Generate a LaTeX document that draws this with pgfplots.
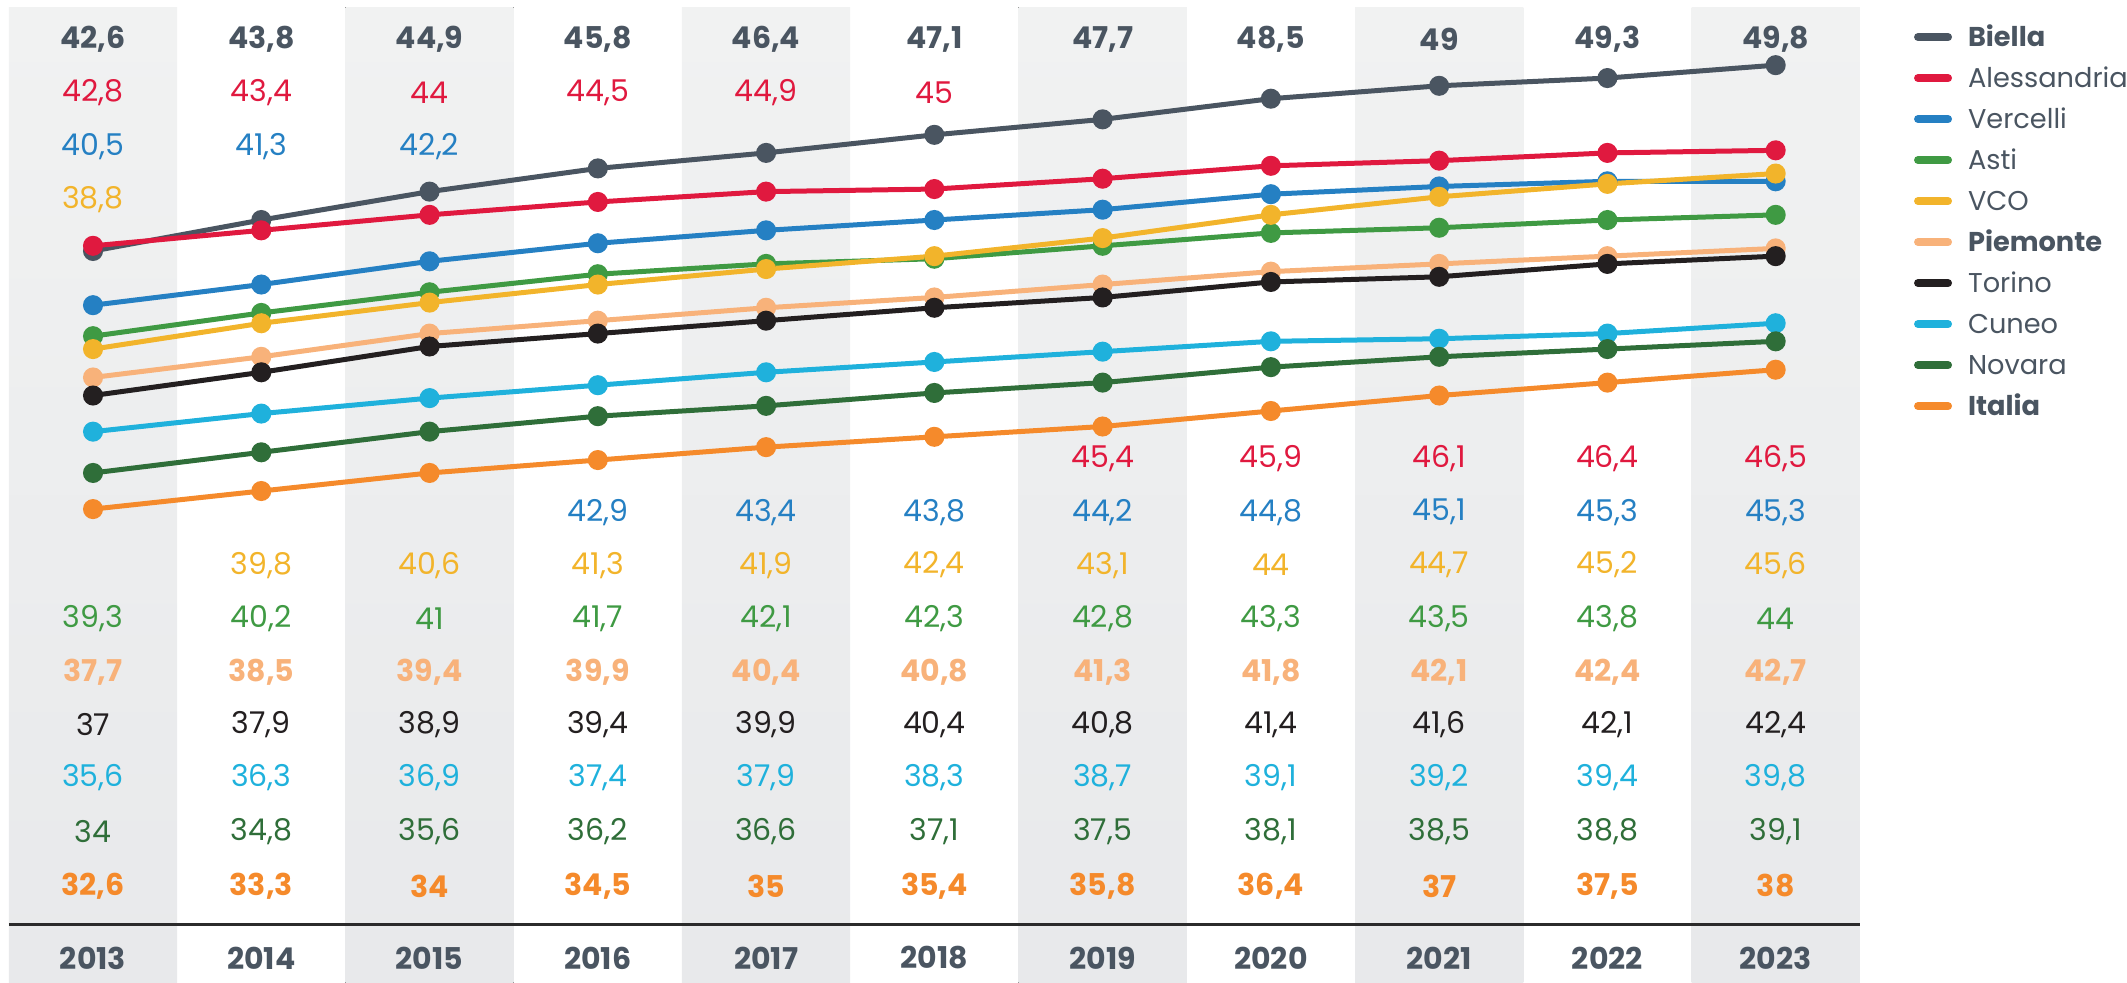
\documentclass[border=0pt]{standalone}
\usepackage{fontspec}
\setmainfont{Poppins}
\usepackage{pgfplots}
\pgfplotsset{compat=1.18}
\usepackage{pgfplotstable}

\definecolor{cBiella}{HTML}{4A5561}
\definecolor{cAless}{HTML}{E0193F}
\definecolor{cVerc}{HTML}{2580C3}
\definecolor{cAsti}{HTML}{3F9A43}
\definecolor{cVCO}{HTML}{F2B42B}
\definecolor{cPiem}{HTML}{F8B27A}
\definecolor{cTorino}{HTML}{231F20}
\definecolor{cCuneo}{HTML}{1FB1DC}
\definecolor{cNovara}{HTML}{2F6E39}
\definecolor{cItalia}{HTML}{F58A2B}
\definecolor{cSlate}{HTML}{4A5561}
\definecolor{shTop}{HTML}{F1F2F2}
\definecolor{shMid}{HTML}{FAFAFA}
\definecolor{shBot}{HTML}{E8E9EB}
\definecolor{axBlack}{HTML}{2B2B2B}

\newcommand{\lf}{\fontsize{15pt}{15pt}\selectfont}

\pgfplotstableread{
year Biella Alessandria Vercelli Asti VCO Piemonte Torino Cuneo Novara Italia
2013 42.6 42.8 40.5 39.3 38.8 37.7 37.0 35.6 34.0 32.6
2014 43.8 43.4 41.3 40.2 39.8 38.5 37.9 36.3 34.8 33.3
2015 44.9 44.0 42.2 41.0 40.6 39.4 38.9 36.9 35.6 34.0
2016 45.8 44.5 42.9 41.7 41.3 39.9 39.4 37.4 36.2 34.5
2017 46.4 44.9 43.4 42.1 41.9 40.4 39.9 37.9 36.6 35.0
2018 47.1 45.0 43.8 42.3 42.4 40.8 40.4 38.3 37.1 35.4
2019 47.7 45.4 44.2 42.8 43.1 41.3 40.8 38.7 37.5 35.8
2020 48.5 45.9 44.8 43.3 44.0 41.8 41.4 39.1 38.1 36.4
2021 49.0 46.1 45.1 43.5 44.7 42.1 41.6 39.2 38.5 37.0
2022 49.3 46.4 45.3 43.8 45.2 42.4 42.1 39.4 38.8 37.5
2023 49.8 46.5 45.3 44.0 45.6 42.7 42.4 39.8 39.1 38.0
}\data

\pgfplotsset{
  vlab/.style 2 args={draw=none, mark=none, forget plot, point meta=explicit,
    nodes near coords={\pgfmathprintnumber[fixed, precision=1, use comma, assume math mode=true]{\pgfplotspointmeta}},
    nodes near coords align={center},
    every node near coord/.append style={text=#1, font=\lf#2, inner sep=0pt, anchor=center}},
  ser/.style={#1, line width=2.5pt, mark=*, mark size=3.75pt, mark options={solid, fill=#1, draw=#1}},
}

\begin{document}
\begin{tikzpicture}
\useasboundingbox (0,0) rectangle (1063.5pt,491.5pt);
\begin{axis}[
  at={(4.45pt,0pt)}, anchor=south west,
  scale only axis, width=925.45pt, height=491.5pt,
  xmin=2012.5, xmax=2023.5, ymin=14.239, ymax=52.325,
  hide axis, clip=false,
  legend style={at={(1.0293,0.9736)}, anchor=north west, draw=none, fill=none,
    inner sep=0pt, outer sep=0pt, row sep=7.3pt, column sep=8pt,
    font=\fontsize{13.6pt}{13.6pt}\selectfont, text=cSlate,
    nodes={inner sep=0pt, text height=10.2pt, text depth=3pt}},
  legend cell align=left,
  legend image code/.code={\draw[#1, line width=4pt, line cap=round] (2pt,1pt) -- (17pt,1pt);},
]
\fill[top color=shTop, middle color=shMid, bottom color=shBot] (axis cs:2012.5,14.239) rectangle (axis cs:2013.5,52.05);
\fill[top color=shTop, middle color=shMid, bottom color=shBot] (axis cs:2014.5,14.239) rectangle (axis cs:2015.5,52.05);
\fill[top color=shTop, middle color=shMid, bottom color=shBot] (axis cs:2016.5,14.239) rectangle (axis cs:2017.5,52.05);
\fill[top color=shTop, middle color=shMid, bottom color=shBot] (axis cs:2018.5,14.239) rectangle (axis cs:2019.5,52.05);
\fill[top color=shTop, middle color=shMid, bottom color=shBot] (axis cs:2020.5,14.239) rectangle (axis cs:2021.5,52.05);
\fill[top color=shTop, middle color=shMid, bottom color=shBot] (axis cs:2022.5,14.239) rectangle (axis cs:2023.5,52.05);

\draw[line width=1.5pt, axBlack] (axis cs:2012.5,16.49) -- (axis cs:2023.5,16.49);

\addplot[ser=cBiella] table[x=year,y=Biella]{\data}; \addlegendentry{\textbf{Biella}}
\addplot[ser=cAless] table[x=year,y=Alessandria]{\data}; \addlegendentry{Alessandria}
\addplot[ser=cVerc] table[x=year,y=Vercelli]{\data}; \addlegendentry{Vercelli}
\addplot[ser=cAsti] table[x=year,y=Asti]{\data}; \addlegendentry{Asti}
\addplot[ser=cVCO] table[x=year,y=VCO]{\data}; \addlegendentry{VCO}
\addplot[ser=cPiem] table[x=year,y=Piemonte]{\data}; \addlegendentry{\textbf{Piemonte}}
\addplot[ser=cTorino] table[x=year,y=Torino]{\data}; \addlegendentry{Torino}
\addplot[ser=cCuneo] table[x=year,y=Cuneo]{\data}; \addlegendentry{Cuneo}
\addplot[ser=cNovara] table[x=year,y=Novara]{\data}; \addlegendentry{Novara}
\addplot[ser=cItalia] table[x=year,y=Italia]{\data}; \addlegendentry{\textbf{Italia}}

% value labels
\addplot[vlab={cBiella}{\bfseries}] table[x=year, y expr=50.81, meta=Biella]{\data};
\addplot[vlab={cAless}{}] table[x=year, y expr={ifthenelse(\thisrow{year}<2018.5,48.72,34.54)}, meta=Alessandria]{\data};
\addplot[vlab={cVerc}{}] table[x=year, y expr={ifthenelse(\thisrow{year}<2015.5,46.66,32.48)}, meta=Vercelli]{\data};
\addplot[vlab={cVCO}{}] table[x=year, y expr={ifthenelse(\thisrow{year}<2013.5,44.61,30.43)}, meta=VCO]{\data};
\addplot[vlab={cAsti}{}] table[x=year, y expr=28.34, meta=Asti]{\data};
\addplot[vlab={cPiem}{\bfseries}] table[x=year, y expr=26.29, meta=Piemonte]{\data};
\addplot[vlab={cTorino}{}] table[x=year, y expr=24.24, meta=Torino]{\data};
\addplot[vlab={cCuneo}{}] table[x=year, y expr=22.18, meta=Cuneo]{\data};
\addplot[vlab={cNovara}{}] table[x=year, y expr=20.09, meta=Novara]{\data};
\addplot[vlab={cItalia}{\bfseries}] table[x=year, y expr=18.00, meta=Italia]{\data};

% year labels
\addplot[draw=none, mark=none, forget plot, point meta=explicit symbolic,
  nodes near coords={\pgfplotspointmeta}, nodes near coords align={center},
  every node near coord/.append style={text=cSlate, font=\lf\bfseries, inner sep=0pt, anchor=center}]
  table[x=year, y expr=15.21, meta=year]{\data};
\end{axis}
\end{tikzpicture}
\end{document}
